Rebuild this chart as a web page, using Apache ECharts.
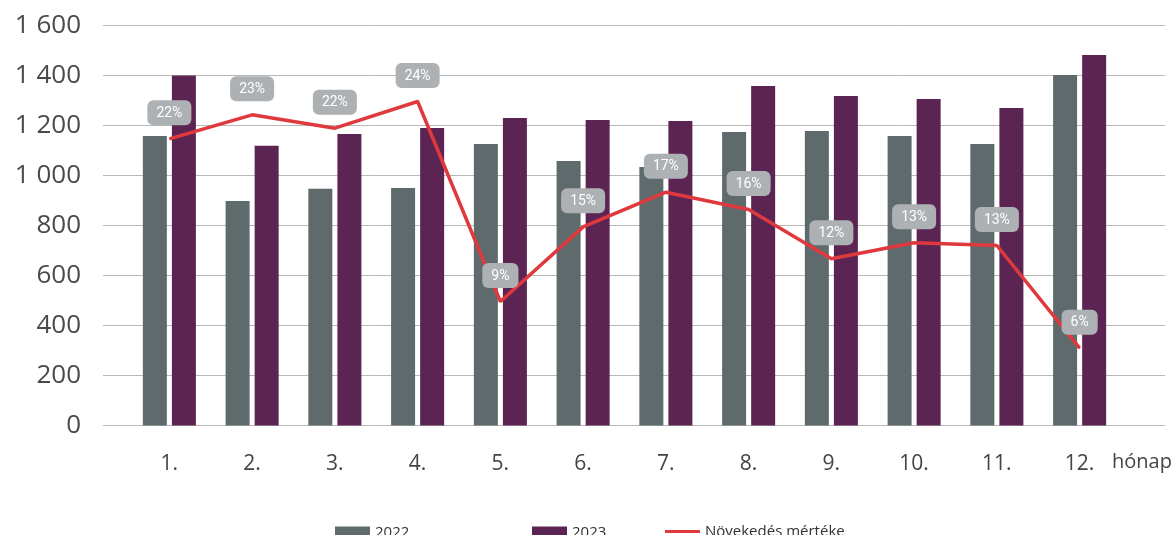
<!DOCTYPE html>
<html>
<head>
<meta charset="utf-8">
<script src="https://cdn.jsdelivr.net/npm/echarts@6/dist/echarts.min.js"></script>
<style>html,body{margin:0;padding:0;background:#fff}#c{width:1176px;height:535px}</style>
</head>
<body>
<div id="c"></div>
<script>
var months = ['1.', '2.', '3.', '4.', '5.', '6.', '7.', '8.', '9.', '10.', '11.', '12.'];
var values2022 = [1158, 898, 947, 950, 1126, 1058, 1034, 1174, 1178, 1158, 1126, 1402];
var values2023 = [1400, 1119, 1166, 1190, 1230, 1222, 1218, 1358, 1318, 1306, 1270, 1482];
var growthPct = [21.5, 23.3, 22.3, 24.3, 9.3, 14.9, 17.5, 16.2, 12.5, 13.7, 13.5, 5.8];
var growthLabels = ['22%', '23%', '22%', '24%', '9%', '15%', '17%', '16%', '12%', '13%', '13%', '6%'];
var yTicks = [0, 200, 400, 600, 800, 1000, 1200, 1400, 1600];

var chart = echarts.init(document.getElementById('c'));
var font = '"Open Sans", "Noto Sans", sans-serif';
chart.setOption({
  animation: false,
  textStyle: { fontFamily: font },
  grid: [
    { left: 103, right: 11, top: 25.5, bottom: 109.5 },
    { left: 128, right: 55, top: 25.5, bottom: 109.5 }
  ],
  xAxis: [
    { gridIndex: 0, type: 'value', min: 0, max: 1, show: false },
    {
      gridIndex: 1, type: 'category', data: months,
      axisLine: { show: false }, axisTick: { show: false },
      axisLabel: { color: '#444', fontSize: 21, margin: 28, fontFamily: font },
      name: 'hónap', nameLocation: 'end', nameGap: -9,
      nameTextStyle: { color: '#444', fontSize: 20, align: 'left', verticalAlign: 'top', padding: [27, 0, 0, 0], fontFamily: font }
    }
  ],
  yAxis: [
    {
      gridIndex: 0, type: 'value', min: 0, max: 1600, interval: 200,
      axisLine: { show: false }, axisTick: { show: false },
      axisLabel: {
        color: '#4a4a4a', fontSize: 26, margin: 22, fontFamily: font,
        formatter: function (v) { return yTicks.indexOf(v) >= 0 ? String(v).replace(/\B(?=(\d{3})+(?!\d))/g, ' ') : ''; }
      },
      splitLine: { lineStyle: { color: '#b8b8b8', width: 1 } }
    },
    { gridIndex: 1, type: 'value', min: 0, max: 1600, show: false },
    { gridIndex: 1, type: 'value', min: 0, max: 30, show: false }
  ],
  legend: [
    { left: 330, top: 520, itemWidth: 35, itemHeight: 12, itemGap: 10, data: [{ name: '2022', icon: 'rect' }], textStyle: { color: '#333', fontSize: 15, fontFamily: font } },
    { left: 527, top: 520, itemWidth: 35, itemHeight: 12, itemGap: 10, data: [{ name: '2023', icon: 'rect' }], textStyle: { color: '#333', fontSize: 15, fontFamily: font } },
    { left: 660, top: 519, itemWidth: 35, itemHeight: 3, itemGap: 10, data: [{ name: 'Növekedés mértéke', icon: 'rect' }], textStyle: { color: '#333', fontSize: 15, fontFamily: font } }
  ],
  series: [
    {
      name: '2022', type: 'bar', xAxisIndex: 1, yAxisIndex: 1, data: values2022,
      barWidth: 24, barGap: '21%', itemStyle: { color: '#5f6a6d' }
    },
    {
      name: '2023', type: 'bar', xAxisIndex: 1, yAxisIndex: 1, data: values2023,
      barWidth: 24, barGap: '21%', itemStyle: { color: '#5c2453' }
    },
    {
      name: 'Növekedés mértéke', type: 'line', xAxisIndex: 1, yAxisIndex: 2, data: growthPct,
      symbol: 'circle', symbolSize: 1, showSymbol: true,
      lineStyle: { color: '#e0393d', width: 3.5 }, itemStyle: { color: '#e0393d' },
      label: {
        show: true, position: 'top', distance: 13,
        formatter: function (p) { return growthLabels[p.dataIndex]; },
        backgroundColor: '#adb1b4', borderRadius: 6, padding: [6, 9, 5, 9],
        color: '#fff', fontSize: 14, letterSpacing: -0.5, fontFamily: 'Roboto, sans-serif'
      },
      labelLayout: { hideOverlap: false },
      z: 5
    }
  ]
});
</script>
</body>
</html>
